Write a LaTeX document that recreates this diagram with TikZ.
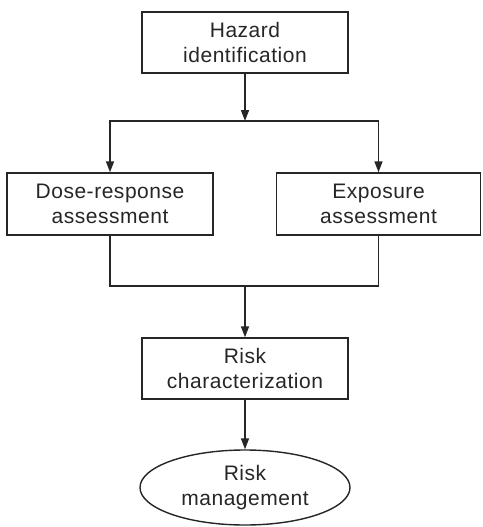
\documentclass[tikz,border=0pt]{standalone}
\usepackage{fontspec}
\setmainfont{Liberation Sans}[LetterSpace=2.5]
\usepackage{tikz}
\usetikzlibrary{arrows.meta,shapes.geometric}
\definecolor{inkgray}{HTML}{262626}

\tikzset{
	stagebox/.style={draw=inkgray, line width=1.4pt, text=inkgray, align=center, inner sep=0pt,
		font=\fontsize{21}{25}\selectfont},
	flow/.style={draw=inkgray, line width=1.6pt, -{Stealth[length=11pt,width=8pt,inset=0pt]}},
	link/.style={draw=inkgray, line width=1.6pt}
}

\begin{document}
\begin{tikzpicture}[x=1pt,y=-1pt]
		\useasboundingbox (0,0) rectangle (482,527);
		% ===== TOP: hazard =====
		\node[stagebox, minimum width=206pt, minimum height=61pt] (hazard) at (245,42.5) {Hazard\\identification};
		\coordinate (split) at (245,121);
		% ===== MIDDLE: the two assessments =====
		\node[stagebox, minimum width=206pt, minimum height=62pt] (dose) at (110,204) {Dose-response\\assessment};
		\node[stagebox, minimum width=204pt, minimum height=62pt] (expo) at (378.5,204) {Exposure\\assessment};
		\coordinate (join) at (245,286);
		% ===== BOTTOM: characterization and management =====
		\node[stagebox, minimum width=206pt, minimum height=61pt] (charac) at (245,368.5) {Risk\\characterization};
		\node[stagebox, ellipse, minimum width=210pt, minimum height=75pt] (manage) at (245,487.5) {Risk\\management};
		% Connectors
		\draw[flow] (hazard.south) -- (split);
		\draw[flow] (split) -| (dose.north);
		\draw[flow] (split) -| (expo.north);
		\draw[link] (dose.south) |- (join);
		\draw[link] (expo.south) |- (join);
		\draw[flow] (join) -- (charac.north);
		\draw[flow] (charac.south) -- (manage.north);
	\end{tikzpicture}
\end{document}
